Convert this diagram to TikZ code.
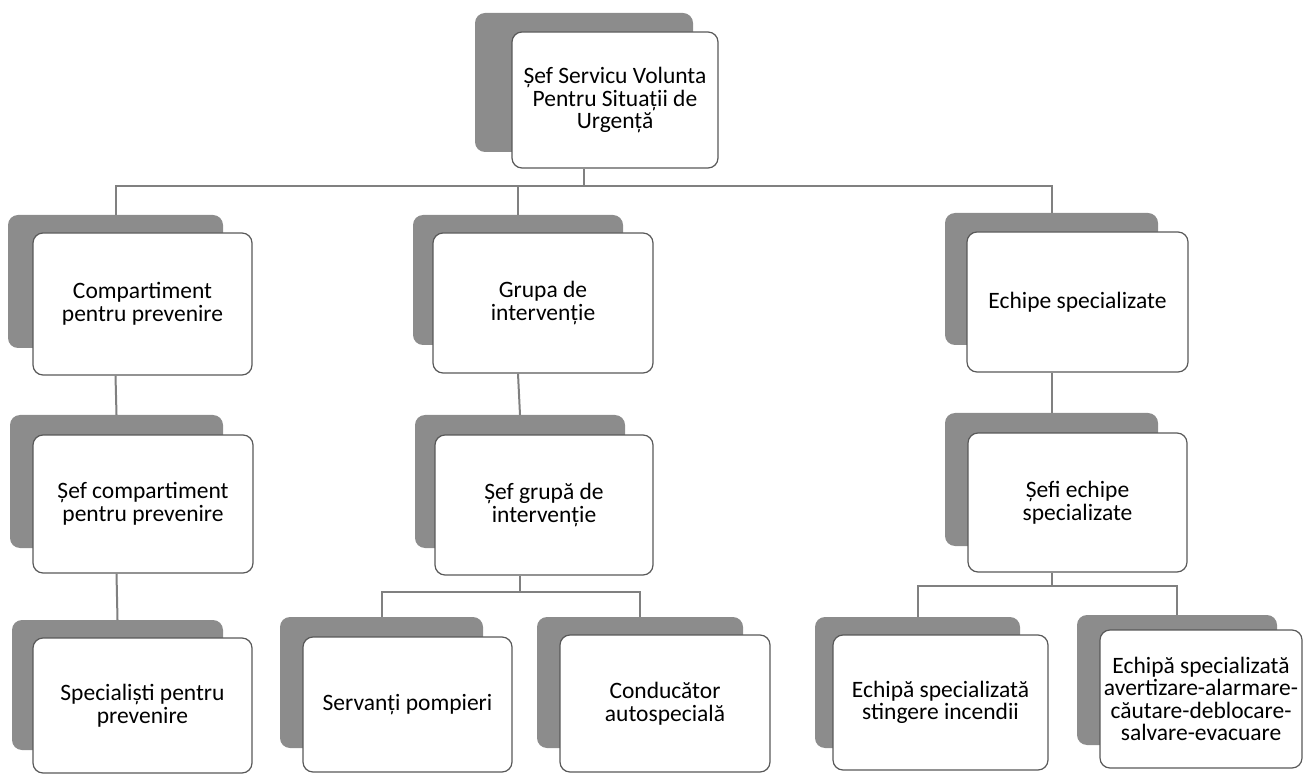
\documentclass[tikz,border=0pt]{standalone}
\usepackage{fontspec}
\setmainfont{Carlito}
\begin{document}
\begin{tikzpicture}[x=1pt,y=-1pt,
  shade/.style={fill=black!45, draw=none, rounded corners=10pt, inner sep=0pt},
  card/.style={fill=white, draw=black!65, line width=1.2pt, rounded corners=10pt, inner sep=0pt, align=center, font=\fontsize{23.5}{22.5}\selectfont},
  conn/.style={draw=black!50, line width=2pt}]
\useasboundingbox (0,0) rectangle (1312,775);
% shadows
\node[shade, minimum width=218, minimum height=139] (topS) at (584,82.5) {};
\node[shade, minimum width=215, minimum height=133] (compS) at (115.5,281.5) {};
\node[shade, minimum width=210, minimum height=130] (grupaS) at (518,280) {};
\node[shade, minimum width=213, minimum height=132] (echS) at (1051.5,279) {};
\node[shade, minimum width=213, minimum height=133] (sefcompS) at (116.5,481.5) {};
\node[shade, minimum width=210, minimum height=133] (sefgrupaS) at (520,481.5) {};
\node[shade, minimum width=213, minimum height=133] (sefiS) at (1051.5,479.5) {};
\node[shade, minimum width=211, minimum height=130] (specS) at (117.5,685) {};
\node[shade, minimum width=203, minimum height=131] (servS) at (381.5,682.5) {};
\node[shade, minimum width=206, minimum height=131] (condS) at (640,682.5) {};
\node[shade, minimum width=205, minimum height=131] (stingS) at (917.5,682.5) {};
\node[shade, minimum width=200, minimum height=130] (avertS) at (1177,680) {};
% cards
\node[card, minimum width=206, minimum height=136] (top) at (615,100) {Șef Servicu Volunta\\Pentru Situații de\\Urgență};
\node[card, minimum width=219, minimum height=142] (comp) at (142.5,304) {Compartiment\\pentru prevenire};
\node[card, minimum width=220, minimum height=140] (grupa) at (543,303) {Grupa de\\intervenție};
\node[card, minimum width=221, minimum height=140] (ech) at (1077.5,302) {Echipe specializate};
\node[card, minimum width=220, minimum height=138] (sefcomp) at (143,504) {Șef compartiment\\pentru prevenire};
\node[card, minimum width=218, minimum height=140] (sefgrupa) at (544,505) {Șef grupă de\\intervenție};
\node[card, minimum width=219, minimum height=139] (sefi) at (1077.5,502.5) {Șefi echipe\\specializate};
\node[card, minimum width=219, minimum height=135] (spec) at (142.5,705.5) {Specialiști pentru\\prevenire};
\node[card, minimum width=209, minimum height=135] (serv) at (407.5,704.5) {Servanți pompieri};
\node[card, minimum width=210, minimum height=137] (cond) at (665,703.5) {Conducător\\autospecială};
\node[card, minimum width=215, minimum height=135] (sting) at (940.5,702.5) {Echipă specializată\\stingere incendii};
\node[card, minimum width=202, minimum height=138] (avert) at (1201,699) {Echipă specializată\\avertizare-alarmare-\\căutare-deblocare-\\salvare-evacuare};
% bus coordinates
\coordinate (bus1) at (0,186);
\coordinate (bus2) at (0,592);
\coordinate (bus3) at (0,586);
% connectors
\draw[conn] (topS.center |- top.south) -- (topS.center |- bus1);
\draw[conn] (compS.north) -- (compS.north |- bus1) -- (echS.north |- bus1) -- (echS.north);
\draw[conn] (grupaS.north) -- (grupaS.north |- bus1);
\draw[conn] (compS.center |- comp.south) -- (sefcompS.north);
\draw[conn] (grupaS.center |- grupa.south) -- (sefgrupaS.north);
\draw[conn] (echS.center |- ech.south) -- (sefiS.north);
\draw[conn] (sefcompS.center |- sefcomp.south) -- (specS.north);
\draw[conn] (sefgrupaS.center |- sefgrupa.south) -- (sefgrupaS.center |- bus2);
\draw[conn] (servS.north) -- (servS.north |- bus2) -- (condS.north |- bus2) -- (condS.north);
\draw[conn] (sefiS.center |- sefi.south) -- (sefiS.center |- bus3);
\draw[conn] (stingS.north) -- (stingS.north |- bus3) -- (avertS.north |- bus3) -- (avertS.north);
\end{tikzpicture}
\end{document}
